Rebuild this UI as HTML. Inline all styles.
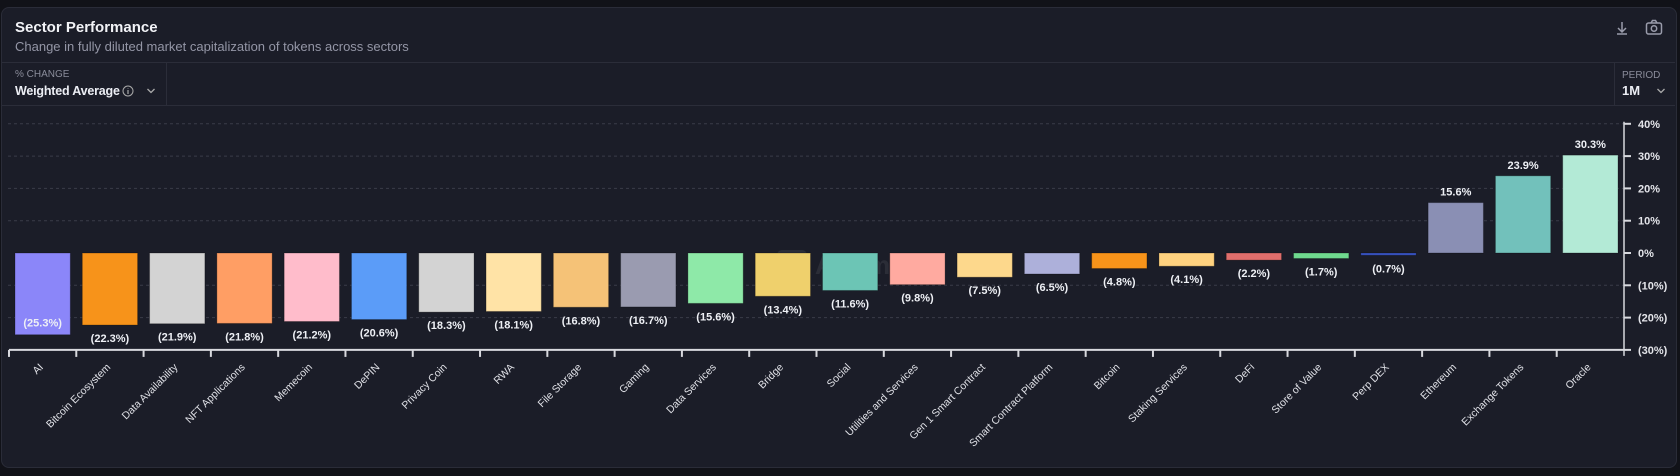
<!DOCTYPE html>
<html><head><meta charset="utf-8">
<style>
body{margin:0;width:1680px;height:476px;background:#111218;font-family:"Liberation Sans",sans-serif;overflow:hidden;position:relative}
#panel{position:absolute;left:1px;top:7px;width:1674px;height:459px;background:#1b1d28;border:1px solid #2a2c38;border-radius:8px}
.t{position:absolute;white-space:nowrap}
</style></head><body>
<div id="panel"></div>
<div class="t" style="left:15px;top:19px;font-size:15px;font-weight:bold;color:#f2f3f7">Sector Performance</div>
<div class="t" style="left:15px;top:39px;font-size:13px;color:#9496a6">Change in fully diluted market capitalization of tokens across sectors</div>
<div style="position:absolute;left:2px;top:62px;width:1673px;height:1px;background:#2b2d39"></div>
<div style="position:absolute;left:2px;top:105px;width:1673px;height:1px;background:#2b2d39"></div>
<div style="position:absolute;left:166px;top:63px;width:1px;height:42px;background:#2b2d39"></div>
<div style="position:absolute;left:1614px;top:63px;width:1px;height:42px;background:#2b2d39"></div>
<div class="t" style="left:15px;top:69px;font-size:10px;color:#8a8c9a">% CHANGE</div>
<div class="t" style="left:15px;top:84px;font-size:12.5px;font-weight:bold;color:#eceef4;letter-spacing:-0.2px">Weighted Average</div>
<svg style="position:absolute;left:122px;top:85px" width="12" height="12"><circle cx="6" cy="6" r="5" stroke="#aaa" stroke-width="1" fill="none"/><path d="M6 5v4M6 3v0.5" stroke="#aaa" stroke-width="1.2"/></svg>
<svg style="position:absolute;left:146px;top:87px" width="10" height="8"><path d="M1.5 2l3.5 3.5 3.5-3.5" stroke="#aaa" stroke-width="1.3" fill="none"/></svg>
<div class="t" style="left:1622px;top:70px;font-size:10px;color:#8a8c9a">PERIOD</div>
<div class="t" style="left:1622px;top:83px;font-size:13px;font-weight:bold;color:#eceef4">1M</div>
<svg style="position:absolute;left:1656px;top:87px" width="10" height="8"><path d="M1.5 2l3.5 3.5 3.5-3.5" stroke="#aaa" stroke-width="1.3" fill="none"/></svg>
<svg style="position:absolute;left:1614px;top:20px" width="16" height="16"><path d="M8 2v9M4 8l4 4 4-4M3 14h10" stroke="#9a9cab" stroke-width="1.5" fill="none"/></svg>
<svg style="position:absolute;left:1645px;top:19px" width="18" height="17"><rect x="1.5" y="4" width="15" height="11" rx="2" stroke="#9a9cab" stroke-width="1.5" fill="none"/><path d="M6 4l1.5-2.5h3L12 4" stroke="#9a9cab" stroke-width="1.5" fill="none"/><circle cx="9" cy="9.5" r="2.7" stroke="#9a9cab" stroke-width="1.5" fill="none"/></svg>
<svg id="chart" style="position:absolute;left:0;top:0" width="1680" height="476"></svg>
<script>
const categories=["AI","Bitcoin Ecosystem","Data Availability","NFT Applications","Memecoin","DePIN","Privacy Coin","RWA","File Storage","Gaming","Data Services","Bridge","Social","Utilities and Services","Gen 1 Smart Contract","Smart Contract Platform","Bitcoin","Staking Services","DeFi","Store of Value","Perp DEX","Ethereum","Exchange Tokens","Oracle"];
const values=[-25.3,-22.3,-21.9,-21.8,-21.2,-20.6,-18.3,-18.1,-16.8,-16.7,-15.6,-13.4,-11.6,-9.8,-7.5,-6.5,-4.8,-4.1,-2.2,-1.7,-0.7,15.6,23.9,30.3];
const colors=["#8b86f9","#f7931a","#d3d3d3","#ff9e64","#ffbccb","#5b9cf8","#d3d3d3","#ffe3a6","#f5c277","#9a9bb0","#8ee9a8","#efd06c","#6cc5b5","#ffaaa0","#fdd88c","#adb0da","#f7931a","#ffd27f","#e06e6c","#6fd98e","#3a56c8","#8a8fb4","#72c1bb","#b3ead6"];
const ticks=[40,30,20,10,0,-10,-20,-30];
const tickLabels=["40%","30%","20%","10%","0%","(10%)","(20%)","(30%)"];
const NS="http://www.w3.org/2000/svg",svg=document.getElementById('chart');
const X0=9,X1=1624,Y0=253,PX=32.3;
const bw=(X1-X0)/categories.length;
const y=v=>Y0-v*PX/10;
const x=i=>X0+i*bw;
function mk(t,a,txt){const e=document.createElementNS(NS,t);for(const k in a)e.setAttribute(k,a[k]);if(txt!==undefined)e.textContent=txt;svg.appendChild(e);return e;}
ticks.forEach((t,i)=>{
 if(t!==-30&&t!==0){const g=mk('line',{x1:8,x2:X1,y1:y(t),y2:y(t),stroke:'#3a3c48','stroke-dasharray':'3,3'});
 
 }
 const tk=mk('line',{x1:X1,x2:X1+7,y1:y(t),y2:y(t),stroke:'#d8d9de','stroke-width':2});
 
 
 const l=mk('text',{x:X1+14,y:y(t)+4,fill:'#e4e5ea','font-size':11,'font-weight':'bold'},tickLabels[i]);
 
 
});
const ya=mk('line',{x1:X1,x2:X1,y1:y(40)-2,y2:y(-30)+6,stroke:'#d8d9de','stroke-width':1.5});


const wm=mk('g',{opacity:0.07});


const wr=document.createElementNS(NS,'rect');['x','y','width','height','rx','fill'].forEach((k,j)=>wr.setAttribute(k,[777,250,30,30,5,'#fff'][j]));wm.appendChild(wr);
const wt=document.createElementNS(NS,'text');wt.setAttribute('x',815);wt.setAttribute('y',274);wt.setAttribute('fill','#fff');wt.setAttribute('font-size',26);wt.setAttribute('font-weight','bold');wt.textContent='Artemis';wm.appendChild(wt);
categories.forEach((c,i)=>{
 const v=values[i],x0=x(i)+6,w=bw-12;
 const top=Math.min(y(v),Y0),h=Math.abs(y(v)-Y0);
 const b=mk('rect',{x:x0,y:top,width:w,height:Math.max(h,1),fill:colors[i],stroke:'rgba(0,0,0,0.25)','stroke-width':1});
 
 
 const txt=v<0?'('+Math.abs(v).toFixed(1)+'%)':v.toFixed(1)+'%';
 let ly;
 if(v>=0)ly=y(v)-7;else{ly=y(v)+17;if(ly>y(-30)-4)ly=y(v)-8;}
 const l=mk('text',{x:x0+w/2,y:ly,fill:'#eef0f5','font-size':11,'font-weight':'bold','text-anchor':'middle'},txt);
 
 
 const tk=mk('line',{x1:x(i),x2:x(i),y1:y(-30),y2:y(-30)+7,stroke:'#d8d9de','stroke-width':2});
 
 
 const cx=x(i)+bw/2-1,cy=y(-30)+20;
 const xl=mk('text',{x:cx+3,y:cy,fill:'#dfe0e6','font-size':10.5,'text-anchor':'end',transform:'rotate(-45 '+cx+' '+cy+')'},c);
 
 
});
const xa=mk('line',{x1:X0,x2:X1,y1:y(-30),y2:y(-30),stroke:'#d8d9de','stroke-width':2});


</script>
</body></html>
